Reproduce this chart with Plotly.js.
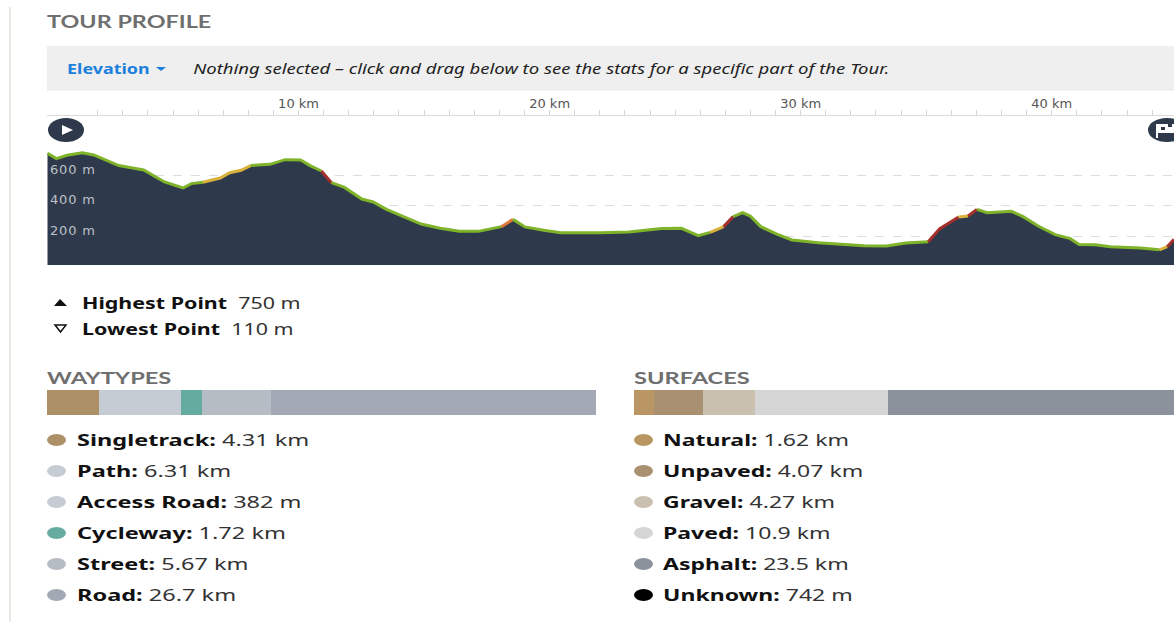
<!DOCTYPE html>
<html><head><meta charset="utf-8">
<script src="https://cdn.plot.ly/plotly-3.0.1.min.js"></script>
<style>html,body{margin:0;padding:0;background:#fff}#c{width:1174px;height:622px}
.ytick text{letter-spacing:.8px}</style>
</head><body><div id="c"></div>
<script>
const km = [0,.35,.78,1.39,1.84,2.3,2.84,3.83,4.66,5.4,5.73,6.19,6.88,7.26,7.71,8.09,8.86,9.47,10.08,10.46,10.91,11.31,11.83,12.52,12.97,13.5,14.27,14.88,15.64,16.4,17.16,18.08,18.54,19.02,19.76,20.44,22,23.16,24.45,25.25,25.92,26.4,26.93,27.31,27.69,27.99,28.41,29.05,29.65,30.71,31.61,32.52,33.42,34.18,35.08,35.54,36.29,36.67,37.02,37.42,38.4,38.86,39.46,40.14,40.74,41.09,41.73,42.33,43.54,44.29,44.6,44.87];
const elevation = [747,712,734,750,736,703,666,637,558,518,547,556,584,619,635,666,674,705,703,666,630,553,522,445,426,377,325,280,252,232,232,263,311,261,239,223,223,228,250,252,204,225,263,329,355,333,263,214,175,157,146,137,135,155,164,250,327,333,377,355,364,329,267,210,184,146,144,131,122,110,131,179];
// grade class of the segment starting at each point: g flat, y moderate, o steep, r very steep
const grade = "ggggggggggg"+"yyyy"+"ggggg"+"r"+"gggggggggg"+"o"+"ggggggggg"+"y"+"r"+"g"+"gggggggggg"+"rryr"+"ggggggggggg"+"yr";
const gradeColors = {g:"#7fb32a",y:"#d9b23c",o:"#e0793a",r:"#a52f2b"};
const elevTicks = [200,400,600];
const kmLabels = [10,20,30,40];
const wayNames = ["Singletrack","Path","Access Road","Cycleway","Street","Road"];
const wayKm = [4.31,6.31,0.382,1.72,5.67,26.7];
const wayText = ["4.31 km","6.31 km","382 m","1.72 km","5.67 km","26.7 km"];
const wayColors = ["#ad9068","#c5ccd4","#c5ccd4","#66aba0","#b6bcc3","#a3a9b4"];
const surfNames = ["Natural","Unpaved","Gravel","Paved","Asphalt","Unknown"];
const surfKm = [1.62,4.07,4.27,10.9,23.5,0.742];
const surfText = ["1.62 km","4.07 km","4.27 km","10.9 km","23.5 km","742 m"];
const surfColors = ["#ba9664","#a89070","#c9c0b0","#d5d5d5","#8c929c","#000000"];

const W=1174,H=622, px=x=>x/W, py=y=>1-y/H;
const FONT="Noto Sans", HEAD="Lato";
const traces=[];
traces.push({x:km,y:elevation,type:"scatter",mode:"none",fill:"tozeroy",fillcolor:"#2e3a4b",hoverinfo:"skip",showlegend:false});
let start=0;
for(let i=1;i<=grade.length;i++){
  if(i===grade.length||grade[i]!==grade[start]){
    traces.push({x:km.slice(start,i+1),y:elevation.slice(start,i+1),type:"scatter",mode:"lines",
      line:{color:gradeColors[grade[start]],width:3,shape:"linear"},hoverinfo:"skip",showlegend:false});
    start=i;
  }
}
wayKm.forEach((v,i)=>traces.push({x:[v],y:["w"],xaxis:"x2",yaxis:"y2",type:"bar",orientation:"h",width:1,marker:{color:wayColors[i],line:{width:0}},hoverinfo:"skip",showlegend:false}));
surfKm.forEach((v,i)=>traces.push({x:[v],y:["s"],xaxis:"x3",yaxis:"y3",type:"bar",orientation:"h",width:1,marker:{color:surfColors[i],line:{width:0}},hoverinfo:"skip",showlegend:false}));

const P={xref:"paper",yref:"paper"};
const shapes=[
 {...P,type:"line",x0:px(10),x1:px(10),y0:py(7),y1:0,line:{color:"#e2e2da",width:1.5}},
 {...P,type:"rect",x0:px(47),x1:1,y0:py(46),y1:py(90),fillcolor:"#efefef",line:{width:0},layer:"below"},
 {...P,type:"line",x0:px(47),x1:1,y0:py(90),y1:py(90),line:{color:"#e6e6e6",width:1}},
 {...P,type:"circle",x0:px(48),x1:px(84),y0:py(118),y1:py(142),fillcolor:"#2e3a4b",line:{width:0}},
 {...P,type:"path",path:`M ${px(62)} ${py(125)} L ${px(73)} ${py(130)} L ${px(62)} ${py(135)} Z`,fillcolor:"#fff",line:{width:0}},
 {...P,type:"circle",x0:px(1148),x1:px(1186),y0:py(118),y1:py(142),fillcolor:"#2e3a4b",line:{width:0}},
 {...P,type:"rect",x0:px(1156),x1:px(1174),y0:py(124),y1:py(133),fillcolor:"#fff",line:{width:0}},
 {...P,type:"rect",x0:px(1156),x1:px(1158),y0:py(124),y1:py(138),fillcolor:"#fff",line:{width:0}},
 {...P,type:"rect",x0:px(1161),x1:px(1165),y0:py(127),y1:py(130),fillcolor:"#2e3a4b",line:{width:0}},
 {...P,type:"rect",x0:px(1168),x1:px(1172),y0:py(124),y1:py(127),fillcolor:"#2e3a4b",line:{width:0}},
 {...P,type:"path",path:`M ${px(54)} ${py(306)} L ${px(60)} ${py(299)} L ${px(67)} ${py(306)} Z`,fillcolor:"#111",line:{width:0}},
 {...P,type:"path",path:`M ${px(55)} ${py(325)} L ${px(66)} ${py(325)} L ${px(60.5)} ${py(332)} Z`,fillcolor:"#fff",line:{color:"#111",width:1.5}},
 {...P,type:"path",path:`M ${px(156)} ${py(67)} L ${px(166)} ${py(67)} L ${px(161)} ${py(71)} Z`,fillcolor:"#1b7fdc",line:{width:0}},
];
const ann=[], stretch=[];
function t(x,y,text,size,color,font,sx){ann.push({...P,x:px(x),y:py(y),text,showarrow:false,xanchor:"left",yanchor:"middle",font:{size,color,family:font||FONT},borderpad:0,borderwidth:0});stretch.push(sx);}
t(47,22,"<b>TOUR PROFILE</b>",17,"#6f6f6f",HEAD,1.375);
t(67,68,"<b>Elevation</b>",14,"#1b7fdc",FONT,1.28);
t(193,68,"<i>Nothing selected – click and drag below to see the stats for a specific part of the Tour.</i>",14,"#222",FONT,1.323);
t(82,303,"<b>Highest Point</b>  <span style='color:#333'>750 m</span>",16,"#111",FONT,1.34);
t(82,329,"<b>Lowest Point</b>  <span style='color:#333'>110 m</span>",16,"#111",FONT,1.34);
t(47,377,"<b>WAYTYPES</b>",17,"#6f6f6f",HEAD,1.39);
t(634,377,"<b>SURFACES</b>",17,"#6f6f6f",HEAD,1.39);
const rows=[440,471,502,533,564,595];
function legend(x0,xt,sx,names,text,colors){names.forEach((n,i)=>{
  shapes.push({...P,type:"circle",x0:px(x0),x1:px(x0+19),y0:py(rows[i]-6),y1:py(rows[i]+6),fillcolor:colors[i],line:{width:0}});
  t(xt,rows[i],`<b>${n}:</b> <span style='color:#333'>${text[i]}</span>`,16,"#111",FONT,sx);
});}
legend(47,77,1.47,wayNames,wayText,wayColors);
legend(634,663,1.44,surfNames,surfText,surfColors);

const layout={width:W,height:H,margin:{l:0,r:0,t:0,b:0,pad:0},paper_bgcolor:"#fff",plot_bgcolor:"rgba(0,0,0,0)",showlegend:false,barmode:"stack",shapes,annotations:ann,
 xaxis:{domain:[px(47),1],range:[-0.02,44.87],side:"top",anchor:"y",tickvals:kmLabels,ticktext:kmLabels.map(k=>k+" km"),ticks:"outside",ticklen:5,tickwidth:1,tickcolor:"#d6d6d6",ticklabelstandoff:-3,
   minor:{dtick:1,tick0:0,ticks:"outside",ticklen:5,tickwidth:1,tickcolor:"#d6d6d6",showgrid:false},
   tickfont:{size:13,color:"#555",family:"DejaVu Sans"},showgrid:false,zeroline:false,showline:true,linecolor:"#dcdcdc",linewidth:1,fixedrange:true},
 yaxis:{domain:[py(265),py(116)],range:[10,993],anchor:"x",tickvals:elevTicks,ticktext:elevTicks.map(v=>v+" m"),ticklabelposition:"inside",ticklabelshift:-6,ticklabelstandoff:0,ticks:"",
   tickfont:{size:13,color:"#bcc0c6",family:"DejaVu Sans"},showgrid:true,gridcolor:"#dddddd",griddash:"dash",gridwidth:1,zeroline:false,showline:false,fixedrange:true},
 xaxis2:{domain:[px(47),px(596)],range:[0,45.09],anchor:"y2",visible:false,fixedrange:true},
 yaxis2:{domain:[py(415),py(390)],anchor:"x2",visible:false,type:"category",fixedrange:true},
 xaxis3:{domain:[px(634),1],range:[0,44.37],anchor:"y3",visible:false,fixedrange:true},
 yaxis3:{domain:[py(415),py(390)],anchor:"x3",visible:false,type:"category",fixedrange:true}
};
Plotly.newPlot("c",traces,layout,{displayModeBar:false,staticPlot:true}).then(()=>{
  document.querySelectorAll(".annotation").forEach(g=>{
    const s=stretch[+g.getAttribute("data-index")], tx=g.querySelector("text");
    if(s&&tx){tx.style.transformBox="fill-box";tx.style.transformOrigin="left center";tx.style.transform=`scaleX(${s})`;}
  });
});
</script></body></html>
